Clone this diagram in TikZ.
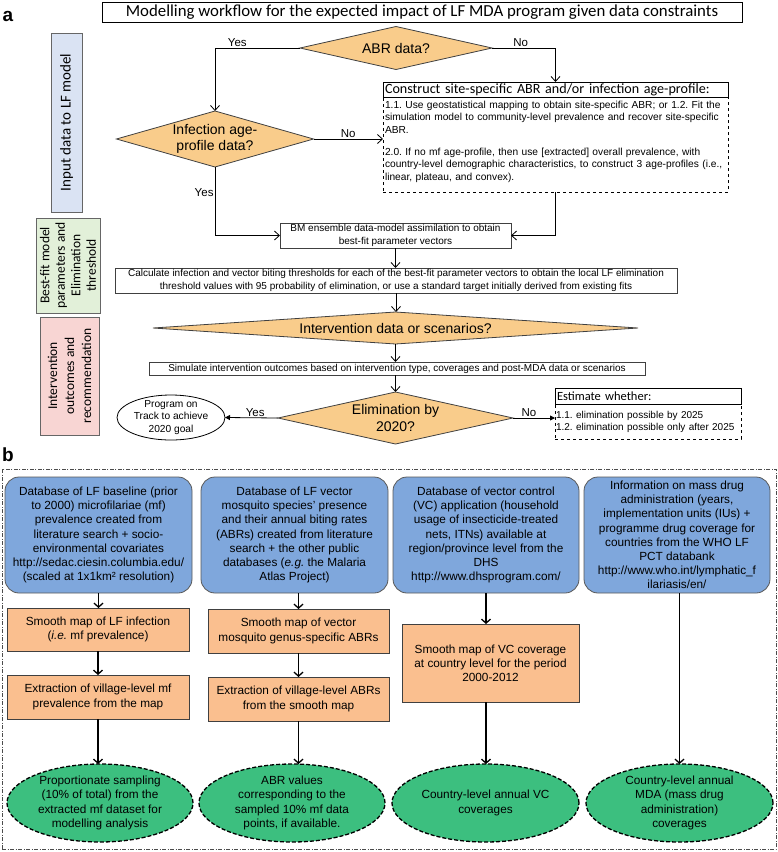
\documentclass[tikz,border=0pt]{standalone}
\usepackage{fontspec}
\setmainfont{Liberation Sans}
\newfontfamily\calib{Carlito}
\usetikzlibrary{shapes.geometric,arrows.meta}
\definecolor{diaor}{HTML}{F9CC8B}
\definecolor{lblue}{HTML}{DAE3F3}
\definecolor{lgreen}{HTML}{E2F0D9}
\definecolor{lpink}{HTML}{F8D5D3}
\definecolor{bblue}{HTML}{7FA7DC}
\definecolor{borange}{HTML}{FABF8F}
\definecolor{bgreen}{HTML}{3CBF7F}
\definecolor{bord}{HTML}{404040}
\newcommand\fsz[2]{\fontsize{#1}{#2}\selectfont}
\frenchspacing
\begin{document}
\begin{tikzpicture}[x=1pt,y=-1pt,
  every node/.style={inner sep=0pt,outer sep=0pt},
  ln/.style={line width=0.8pt,draw=black},
  arr/.style={ln,-{Straight Barb[length=5pt,width=9pt]}},
  tarr/.style={ln,-{Triangle[length=5pt,width=5pt]}},
  lbl/.style={font=\fsz{11.5}{13}, inner sep=1.5pt},
  dia/.style={diamond, draw=bord, fill=diaor, line width=0.8pt, align=center, font=\fsz{14}{16.5}},
  pbox/.style={rectangle, draw=bord, line width=0.8pt, fill=white, align=center, font=\fsz{10}{12.3}},
  side/.style={rectangle, draw=gray!80!black, line width=0.8pt, align=center, rotate=90, font=\calib\fsz{15}{17}},
  bbox/.style={rectangle, rounded corners=14pt, draw=gray!70!black, fill=bblue, line width=0.8pt, align=center, font=\fsz{11.8}{14.2}, minimum height=116pt},
  obox/.style={rectangle, draw=bord, fill=borange, line width=0.8pt, align=center, font=\fsz{11.8}{14.2}},
  gell/.style={ellipse, draw=black, fill=bgreen, line width=1.3pt, dash pattern=on 4pt off 2pt, minimum width=186pt, minimum height=78pt},
  etxt/.style={align=center, font=\fsz{11.8}{14.2}},
  barr/.style={line width=1.3pt, -{Straight Barb[length=4pt,width=9pt]}},
]
\useasboundingbox (0,0) rectangle (778,852);
% ---------------- panel a ----------------
\node[font=\bfseries\fsz{19}{20}] (la) at (8,16) {a};
\node[draw=black, line width=0.8pt, minimum width=640pt, minimum height=20pt, font=\calib\fsz{16.8}{18}] (title) at (422,12) {Modelling workflow for the expected impact of LF MDA program given data constraints};
\node[side, fill=lblue, minimum width=179pt, minimum height=31pt] (s1) at (66.5,122.5) {Input data to LF model};
\node[side, fill=lgreen, minimum width=95pt, minimum height=64pt, font=\calib\fsz{13.5}{15.5}] (s2) at (68,265.5) {Best-fit model\\parameters and\\Elimination\\threshold};
\node[side, fill=lpink, minimum width=118pt, minimum height=59pt, font=\calib\fsz{13.5}{17}] (s3) at (69.5,376) {Intervention\\outcomes and\\recommendation};

\node[dia, minimum width=192pt, minimum height=43pt, shape aspect=4.47] (abr) at (396,48) {ABR data?};
\node[dia, minimum width=197pt, minimum height=56pt, shape aspect=3.5] (inf) at (215,139) {Infection age-\\profile data?};
\node[draw=black, line width=0.8pt, fill=white, minimum width=345pt, minimum height=15pt, text width=341pt, align=left, font=\calib\fsz{14.1}{15}] (cons) at (555.5,89.5) {Construct site-specific ABR and/or infection age-profile:};
\node[draw=black, dashed, line width=0.8pt, minimum width=345pt, minimum height=95pt] (consb) at (555.5,144.5) {};
\node[anchor=north west, text width=345pt, align=left, font=\fsz{10.2}{12.6}] (consbt) at ([xshift=2pt,yshift=-4pt]consb.north west) {1.1. Use geostatistical mapping to obtain site-specific ABR; or 1.2. Fit the\\simulation model to community-level prevalence and recover site-specific\\ABR.\\[9pt]2.0. If no mf age-profile, then use [extracted] overall prevalence, with\\country-level demographic characteristics, to construct 3 age-profiles (i.e.,\\linear, plateau, and convex).};
\node[pbox, minimum width=231pt, minimum height=25pt] (bm) at (395.5,235.5) {BM ensemble data-model assimilation to obtain\\best-fit parameter vectors};
\node[pbox, minimum width=562pt, minimum height=25pt] (calc) at (396,280.5) {Calculate infection and vector biting thresholds for each of the best-fit parameter vectors to obtain the local LF elimination\\threshold values with 95 probability of elimination, or use a standard target initially derived from existing fits};
\node[dia, minimum width=485pt, minimum height=32pt, shape aspect=15.2] (intv) at (395.5,328) {Intervention data or scenarios?};
\node[pbox, minimum width=496pt, minimum height=13pt] (sim) at (397,368.5) {Simulate intervention outcomes based on intervention type, coverages and post-MDA data or scenarios};
\node[dia, minimum width=235pt, minimum height=52pt, shape aspect=4.5] (elim) at (395.5,418) {Elimination by\\2020?};
\node[ellipse, draw=black, line width=0.8pt, fill=white, minimum width=108pt, minimum height=45pt] (prog) at (171,417.5) {};
\node[align=center, font=\fsz{10.2}{12.5}] (progt) at (prog) {Program on\\Track to achieve\\2020 goal};
\node[draw=black, line width=0.8pt, fill=white, minimum width=186pt, minimum height=16pt, text width=182pt, align=left, font=\calib\fsz{12.5}{14}] (est) at (648,396) {Estimate whether:};
\node[draw=black, dashed, line width=0.8pt, minimum width=186pt, minimum height=35pt, text width=184pt, align=left, font=\fsz{10}{12}] (estb) at (648,421.5) {1.1. elimination possible by 2025\\1.2. elimination possible only after 2025};

\draw[arr] (abr.west) -| node[lbl, above, pos=0.369]{Yes} (inf.north);
\draw[arr] (abr.east) -| node[lbl, above, pos=0.226]{No} (cons.north);
\draw[arr] (inf.east) -- node[lbl, above]{No} (inf.east -| consb.west);
\draw[arr] (inf.south) |- node[lbl, left, pos=0.19]{Yes} (bm.west);
\draw[arr] (consb.south) |- (bm.east);
\draw[arr] (bm.south) -- (bm.south |- calc.north);
\draw[arr] (calc.south) -- (calc.south |- intv.north);
\draw[arr] (intv.south) -- (intv.south |- sim.north);
\draw[arr] (elim.north |- sim.south) -- (elim.north);
\draw[tarr] (elim.west) -- node[lbl, above, pos=0.43]{Yes} (prog.east);
\draw[tarr] (elim.east) -- node[lbl, above, pos=0.38]{No} (elim.east -| estb.west);

% ---------------- panel b ----------------
\node[font=\bfseries\fsz{19}{20}] (lb) at (8,455) {b};
\node[draw=gray!60!black, line width=0.8pt, dash pattern=on 4pt off 1.5pt on 1pt off 1.5pt, minimum width=774pt, minimum height=380pt] (frameb) at (389,659) {};

\node[bbox, minimum width=187pt] (b1) at (98.5,535) {Database of LF baseline (prior\\to 2000) microfilariae (mf)\\prevalence created from\\literature search + socio-\\environmental covariates\\http://sedac.ciesin.columbia.edu/\\(scaled at 1x1km² resolution)};
\node[bbox, minimum width=187pt] (b2) at (294.5,535) {Database of LF vector\\mosquito species’ presence\\and their annual biting rates\\(ABRs) created from literature\\search + the other public\\databases (\textit{e.g.} the Malaria\\Atlas Project)};
\node[bbox, minimum width=186pt] (b3) at (486,535) {Database of vector control\\(VC) application (household\\usage of insecticide-treated\\nets, ITNs) available at\\region/province level from the\\DHS\\http://www.dhsprogram.com/};
\node[bbox, minimum width=186pt] (b4) at (677,535) {Information on mass drug\\administration (years,\\implementation units (IUs) +\\programme drug coverage for\\countries from the WHO LF\\PCT databank\\http://www.who.int/lymphatic\_f\\ilariasis/en/};

\node[obox, minimum width=182pt, minimum height=43pt] (o1a) at (98,629.5) {Smooth map of LF infection\\(\textit{i.e.} mf prevalence)};
\node[obox, minimum width=182pt, minimum height=44pt] (o1b) at (98,697) {Extraction of village-level mf\\prevalence from the map};
\node[obox, minimum width=181pt, minimum height=44pt] (o2a) at (298.5,631) {Smooth map of vector\\mosquito genus-specific ABRs};
\node[obox, minimum width=181pt, minimum height=44pt] (o2b) at (298.5,699) {Extraction of village-level ABRs\\from the smooth map};
\node[obox, minimum width=177pt, minimum height=78pt] (o3) at (490.5,663) {Smooth map of VC coverage\\at country level for the period\\2000-2012};

\node[gell] (e1) at (100,803) {};
\node[etxt] (e1t) at (e1) {Proportionate sampling\\(10\% of total) from the\\extracted mf dataset for\\modelling analysis};
\node[gell] (e2) at (292,803) {};
\node[etxt] (e2t) at (e2) {ABR values\\corresponding to the\\sampled 10\% mf data\\points, if available.};
\node[gell, minimum width=187pt] (e3) at (485.5,803) {};
\node[etxt] (e3t) at (e3) {Country-level annual VC\\coverages};
\node[gell, minimum width=187pt] (e4) at (679.5,803) {};
\node[etxt] (e4t) at (e4) {Country-level annual\\MDA (mass drug\\administration)\\coverages};

\draw[barr] (b1.south) -- (b1.south |- o1a.north);
\draw[barr] (o1a.south) -- (o1a.south |- o1b.north);
\draw[barr] (o1b.south) -- (o1b.south |- e1.north);
\draw[barr] (o2a.north |- b2.south) -- (o2a.north);
\draw[barr] (o2a.south) -- (o2a.south |- o2b.north);
\draw[barr] (o2b.south) -- (o2b.south |- e2.north);
\draw[barr] (b3.south) -- (b3.south |- o3.north);
\draw[barr] (o3.south -| b3.south) -- (b3.south |- e3.north);
\draw[barr] (e4.north |- b4.south) -- (e4.north);
\end{tikzpicture}
\end{document}
